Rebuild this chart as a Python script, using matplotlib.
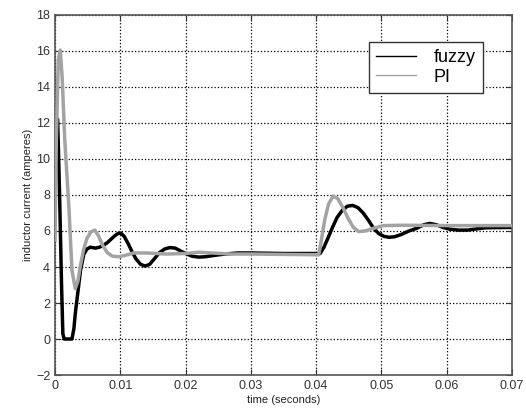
import numpy as np
import matplotlib.pyplot as plt

plt.rcParams['font.family'] = ['Liberation Sans', 'DejaVu Sans']

# fuzzy controller response
fuzzyT = [0.0, 0.0004, 0.0007, 0.0010, 0.0012, 0.0014, 0.0026, 0.0029, 0.0031, 0.0035,
          0.0039, 0.0044, 0.0049, 0.0054, 0.0062, 0.0068, 0.0074, 0.0080, 0.0086, 0.0092,
          0.0097, 0.0101, 0.0106, 0.0112, 0.0118, 0.0124, 0.0131, 0.0138, 0.0145, 0.0152,
          0.0160, 0.0168, 0.0176, 0.0184, 0.0192, 0.0200, 0.0210, 0.0220, 0.0230, 0.0245,
          0.0260, 0.0280, 0.0300, 0.0350, 0.0406, 0.0412, 0.0418, 0.0425, 0.0432, 0.0440,
          0.0448, 0.0456, 0.0464, 0.0472, 0.0480, 0.0488, 0.0496, 0.0504, 0.0512, 0.0520,
          0.0530, 0.0542, 0.0554, 0.0565, 0.0574, 0.0584, 0.0594, 0.0605, 0.0618, 0.0632,
          0.0646, 0.0660, 0.0700]
fuzzyI = [12.2, 12.2, 8.0, 3.0, 0.3, 0.0, 0.0, 0.6, 1.4, 2.6,
          3.8, 4.7, 5.0, 5.1, 5.05, 5.1, 5.2, 5.35, 5.55, 5.75,
          5.87, 5.88, 5.7, 5.3, 4.85, 4.45, 4.15, 4.05, 4.15, 4.45,
          4.8, 5.0, 5.08, 5.05, 4.9, 4.75, 4.6, 4.55, 4.57, 4.65,
          4.72, 4.78, 4.78, 4.75, 4.75, 5.1, 5.6, 6.2, 6.75, 7.15,
          7.38, 7.42, 7.3, 7.0, 6.6, 6.15, 5.85, 5.7, 5.65, 5.68,
          5.8, 6.0, 6.15, 6.35, 6.42, 6.35, 6.2, 6.1, 6.05, 6.05,
          6.12, 6.18, 6.2]

# PI controller response
piT = [0.0, 0.0002, 0.0005, 0.0008, 0.0011, 0.0015, 0.0021, 0.0026, 0.0031, 0.0035,
       0.0039, 0.0044, 0.0049, 0.0055, 0.0061, 0.0067, 0.0073, 0.0080, 0.0088, 0.0098,
       0.0108, 0.0120, 0.0140, 0.0170, 0.0200, 0.0220, 0.0240, 0.0270, 0.0300, 0.0350,
       0.0404, 0.0408, 0.0413, 0.0419, 0.0426, 0.0433, 0.0441, 0.0449, 0.0457, 0.0465,
       0.0475, 0.0488, 0.0503, 0.0530, 0.0600, 0.0700]
piI = [5.5, 11.0, 15.5, 16.05, 14.5, 11.0, 7.5, 3.8, 2.8, 3.2,
       4.1, 5.0, 5.6, 5.95, 6.05, 5.7, 5.2, 4.8, 4.6, 4.57,
       4.65, 4.78, 4.78, 4.72, 4.75, 4.82, 4.78, 4.72, 4.72, 4.7,
       4.68, 5.5, 6.6, 7.5, 7.94, 7.8, 7.3, 6.7, 6.2, 5.97,
       6.0, 6.15, 6.3, 6.32, 6.3, 6.3]

xTicks = [0, 0.01, 0.02, 0.03, 0.04, 0.05, 0.06, 0.07]
xTickLabels = ['0', '0.01', '0.02', '0.03', '0.04', '0.05', '0.06', '0.07']
yTicks = list(range(-2, 19, 2))

fig = plt.figure(figsize=(5.26, 4.13), dpi=100)
ax = fig.add_axes([0.1046, 0.092, 0.8688, 0.8717])

ax.plot(piT, piI, color='#a3a3a3', linewidth=2.5, label='PI', zorder=3)
ax.plot(fuzzyT, fuzzyI, color='black', linewidth=2.5, label='fuzzy', zorder=2)

ax.set_xlim(0, 0.07)
ax.set_ylim(-2, 18)
ax.set_xticks(xTicks)
ax.set_xticklabels(xTickLabels)
ax.set_yticks(yTicks)
ax.tick_params(direction='in', top=True, right=True, labelsize=9, colors='#333333', length=4)
ax.grid(True, linestyle=':', color='black', linewidth=0.9)
for s in ax.spines.values():
    s.set_color('#555555')
    s.set_linewidth(1.2)

ax.set_xlabel('time (seconds)', fontsize=8, labelpad=2, color='#222222')
ax.set_ylabel('inductor current (amperes)', fontsize=8, labelpad=2, color='#222222')

h, l = ax.get_legend_handles_labels()
leg = ax.legend([h[1], h[0]], [l[1], l[0]], loc='upper right', bbox_to_anchor=(0.9365, 0.926),
                borderaxespad=0, fancybox=False, framealpha=1, edgecolor='#333333',
                fontsize=13, handlelength=2.2, handletextpad=1.0, labelspacing=0.15)
for line in leg.get_lines():
    line.set_linewidth(1.0)
leg.get_frame().set_linewidth(1.0)

fig.savefig('out.png', dpi=100)
